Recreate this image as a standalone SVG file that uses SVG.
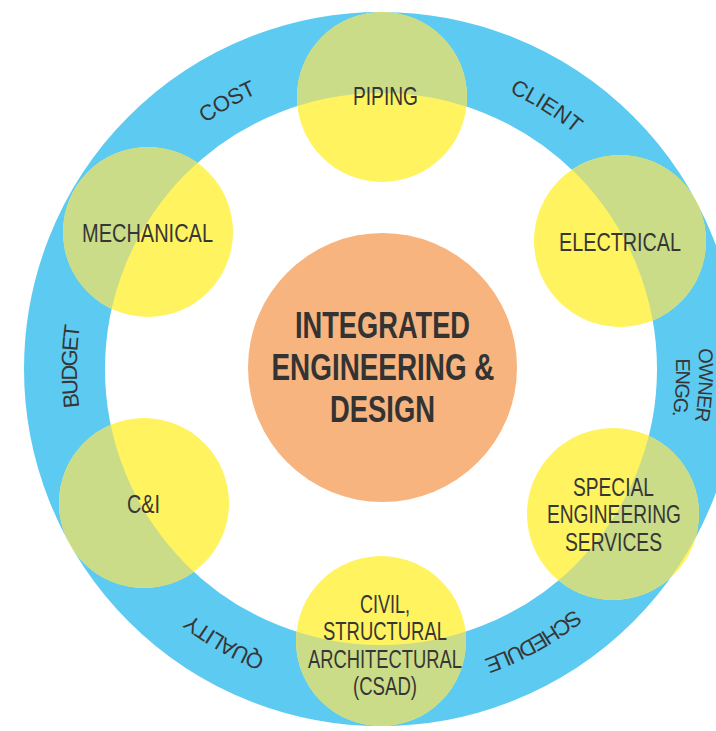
<svg xmlns="http://www.w3.org/2000/svg" width="716" height="731" viewBox="0 0 716 731">
<style>
.lbl{font-family:"Liberation Sans Narrow","Liberation Sans",Arial,sans-serif;font-size:25px;fill:#363636;text-anchor:middle}
.ring{font-family:"Liberation Sans Narrow","Liberation Sans",Arial,sans-serif;font-size:22px;fill:#363636;text-anchor:middle}
.ring.sm{font-size:20px}
.core{font-family:"Liberation Sans Narrow","Liberation Sans",Arial,sans-serif;font-size:36px;font-weight:bold;fill:#333333;text-anchor:middle}
.sat{fill:#FFF35F}
.ov{fill:#CBDC88}
</style>
<defs>
<clipPath id="ringClip">
<path clip-rule="evenodd" d="M381,12 A357,357 0 1 1 381,726 A357,357 0 1 1 381,12 Z M381,93 A276,276 0 1 1 381,645 A276,276 0 1 1 381,93 Z"/>
</clipPath>
<path id="r302" d="M381,67 A302,302 0 1 1 381,671 A302,302 0 1 1 381,67"/>
<path id="r305" d="M381,64 A305,305 0 1 1 381,674 A305,305 0 1 1 381,64"/>
<path id="r304" d="M381,65 A304,304 0 1 1 381,673 A304,304 0 1 1 381,65"/>
<path id="r308" d="M381,61 A308,308 0 1 1 381,677 A308,308 0 1 1 381,61"/>
<path id="r310" d="M381,59 A310,310 0 1 1 381,679 A310,310 0 1 1 381,59"/>
<path id="r318" d="M381,51 A318,318 0 1 1 381,687 A318,318 0 1 1 381,51"/>
<path id="r295" d="M381,74 A295,295 0 1 1 381,664 A295,295 0 1 1 381,74"/>
</defs>

<g id="ring">
<circle cx="381" cy="369" r="316.5" fill="none" stroke="#5DCBF1" stroke-width="81"/>
<text class="ring"><textPath href="#r302" startOffset="91.7%" textLength="60">COST</textPath></text>
<text class="ring"><textPath href="#r305" startOffset="8.94%" textLength="78">CLIENT</textPath></text>
<text class="ring sm"><textPath href="#r318" startOffset="25.8%" textLength="73">OWNER</textPath></text>
<text class="ring sm"><textPath href="#r295" startOffset="26.0%" textLength="58">ENGG.</textPath></text>
<text class="ring"><textPath href="#r308" startOffset="41.9%" textLength="104">SCHEDULE</textPath></text>
<text class="ring"><textPath href="#r310" startOffset="58.3%" textLength="86">QUALITY</textPath></text>
<text class="ring"><textPath href="#r304" startOffset="75.14%" textLength="82">BUDGET</textPath></text>
</g>

<g id="piping">
<circle class="sat" cx="382" cy="97" r="85"/>
<circle class="ov" cx="382" cy="97" r="85" clip-path="url(#ringClip)"/>
<text class="lbl" x="385.5" y="105" textLength="65" lengthAdjust="spacingAndGlyphs">PIPING</text>
</g>

<g id="electrical">
<circle class="sat" cx="620" cy="241" r="86"/>
<circle class="ov" cx="620" cy="241" r="86" clip-path="url(#ringClip)"/>
<text class="lbl" x="620" y="251" textLength="122" lengthAdjust="spacingAndGlyphs">ELECTRICAL</text>
</g>

<g id="special">
<circle class="sat" cx="613" cy="514" r="86"/>
<circle class="ov" cx="613" cy="514" r="86" clip-path="url(#ringClip)"/>
<text class="lbl" x="613.5" y="496" textLength="81" lengthAdjust="spacingAndGlyphs">SPECIAL</text>
<text class="lbl" x="614" y="523" textLength="134" lengthAdjust="spacingAndGlyphs">ENGINEERING</text>
<text class="lbl" x="613.5" y="551" textLength="97" lengthAdjust="spacingAndGlyphs">SERVICES</text>
</g>

<g id="csad">
<circle class="sat" cx="381" cy="641" r="85"/>
<circle class="ov" cx="381" cy="641" r="85" clip-path="url(#ringClip)"/>
<text class="lbl" x="385" y="613" textLength="50" lengthAdjust="spacingAndGlyphs">CIVIL,</text>
<text class="lbl" x="385" y="640" textLength="124" lengthAdjust="spacingAndGlyphs">STRUCTURAL</text>
<text class="lbl" x="385" y="668" textLength="154" lengthAdjust="spacingAndGlyphs">ARCHITECTURAL</text>
<text class="lbl" x="385" y="695" textLength="64" lengthAdjust="spacingAndGlyphs">(CSAD)</text>
</g>

<g id="ci">
<circle class="sat" cx="144" cy="503" r="85"/>
<circle class="ov" cx="144" cy="503" r="85" clip-path="url(#ringClip)"/>
<text class="lbl" x="143.5" y="513" textLength="33" lengthAdjust="spacingAndGlyphs">C&amp;I</text>
</g>

<g id="mechanical">
<circle class="sat" cx="148" cy="232" r="85"/>
<circle class="ov" cx="148" cy="232" r="85" clip-path="url(#ringClip)"/>
<text class="lbl" x="147.5" y="242" textLength="131" lengthAdjust="spacingAndGlyphs">MECHANICAL</text>
</g>

<g id="core">
<circle cx="382.5" cy="367.5" r="134.5" fill="#F7B47F"/>
<text class="core" x="382.5" y="338" textLength="175" lengthAdjust="spacingAndGlyphs">INTEGRATED</text>
<text class="core" x="383" y="380" textLength="223" lengthAdjust="spacingAndGlyphs">ENGINEERING &amp;</text>
<text class="core" x="382.5" y="422" textLength="105" lengthAdjust="spacingAndGlyphs">DESIGN</text>
</g>

<g id="connectors"></g>
</svg>
